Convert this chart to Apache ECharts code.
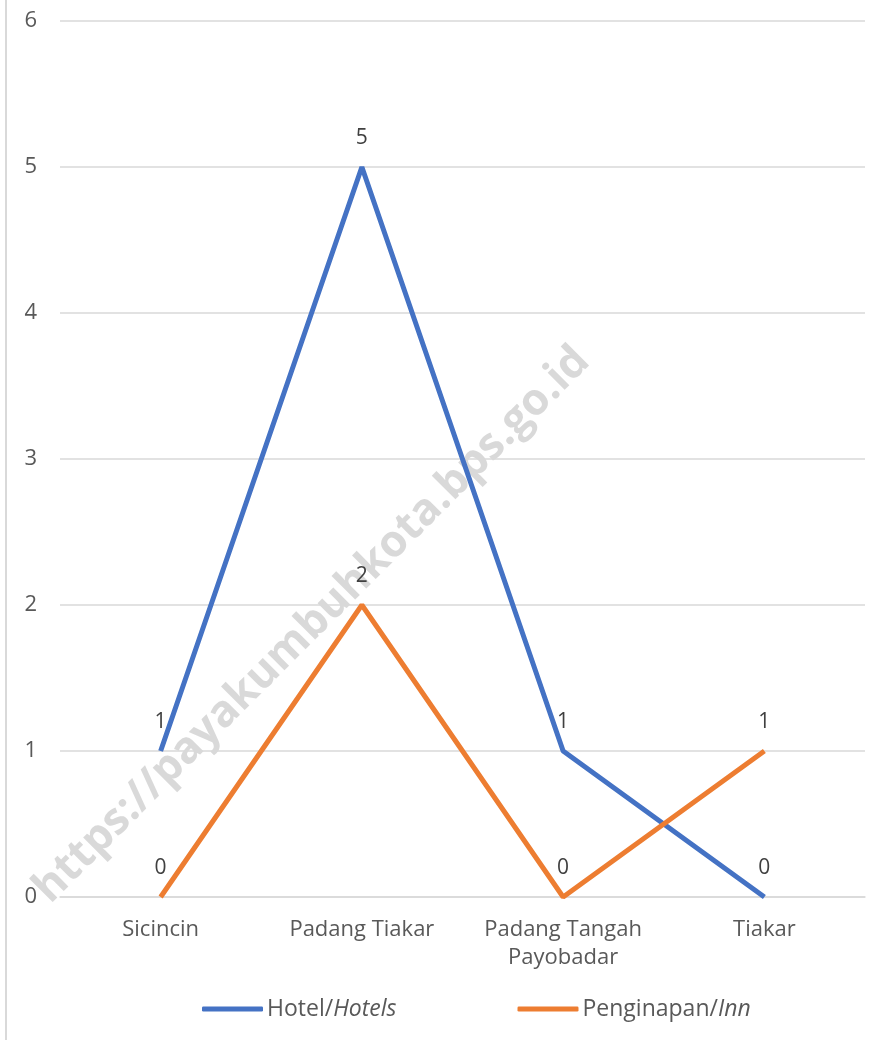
<!DOCTYPE html>
<html>
<head>
<meta charset="utf-8">
<script src="https://cdn.jsdelivr.net/npm/echarts@6/dist/echarts.min.js"></script>
<style>
html,body{margin:0;padding:0;background:#fff;}
#chart{width:893px;height:1040px;}
</style>
</head>
<body>
<div id="chart"></div>
<script>
const categories = ['Sicincin', 'Padang Tiakar', 'Padang Tangah\nPayobadar', 'Tiakar'];
const hotelValues = [1, 5, 1, 0];
const innValues = [0, 2, 0, 1];
const yTicks = [0, 1, 2, 3, 4, 5, 6];
const seriesNames = ['Hotel/Hotels', 'Penginapan/Inn'];
const seriesColors = ['#4472C4', '#ED7D31'];
const watermark = 'https://payakumbuhkota.bps.go.id';

const chart = echarts.init(document.getElementById('chart'));
const font = '"Open Sans", "DejaVu Sans", sans-serif';
function labelStyle() {
  return { show: true, position: 'top', distance: 17, color: '#404040', fontSize: 21, fontFamily: font };
}
function makeSeries(i, values) {
  return {
    name: seriesNames[i], type: 'line', data: values,
    symbol: 'circle', symbolSize: 2, showSymbol: true,
    itemStyle: { color: 'rgba(0,0,0,0)', borderWidth: 0 },
    lineStyle: { width: 5, color: seriesColors[i] },
    label: labelStyle()
  };
}

chart.setOption({
  animation: false,
  backgroundColor: '#fff',
  textStyle: { fontFamily: font },
  grid: { left: 60, right: 28, top: 21, bottom: 143 },
  graphic: [
    { type: 'line', shape: { x1: 6, y1: 0, x2: 6, y2: 1040 }, style: { stroke: '#d9d9d9', lineWidth: 2 }, z: -10 },
    { type: 'text', x: 312, y: 625, rotation: Math.PI / 4, z: -5,
      style: { text: watermark, fill: 'rgba(180,180,180,0.5)', font: 'bold 44px "Open Sans", sans-serif', align: 'center', verticalAlign: 'middle' } }
  ],
  legend: {
    top: 994, left: 202, padding: 0, itemGap: 121, itemWidth: 61, itemHeight: 5, icon: 'roundRect',
    data: seriesNames.map(function (n, i) { return { name: n, itemStyle: { color: seriesColors[i], opacity: 1 } }; }),
    formatter: function (n) { const p = n.split('/'); return p[0] + '/{i|' + p[1] + '}'; },
    textStyle: { color: '#595959', fontSize: 23, lineHeight: 30, fontFamily: font, padding: [0, 0, 0, -1],
      rich: { i: { fontStyle: 'italic', fontSize: 23, lineHeight: 30, color: '#595959', fontFamily: font } } }
  },
  xAxis: {
    type: 'category', data: categories, boundaryGap: true,
    axisLine: { lineStyle: { color: '#d9d9d9', width: 1.5 } },
    axisTick: { show: false },
    axisLabel: { interval: 0, color: '#595959', fontSize: 22, margin: 19, lineHeight: 28, fontFamily: font }
  },
  yAxis: {
    type: 'value', min: 0, max: 6, interval: 1,
    axisLine: { show: false }, axisTick: { show: false },
    axisLabel: { color: '#595959', fontSize: 22, margin: 23, fontFamily: font,
      formatter: function (v) { return yTicks.indexOf(v) >= 0 ? String(v) : ''; } },
    splitLine: { lineStyle: { color: '#d9d9d9', width: 1.5 } }
  },
  series: [makeSeries(0, hotelValues), makeSeries(1, innValues)]
});
</script>
</body>
</html>
